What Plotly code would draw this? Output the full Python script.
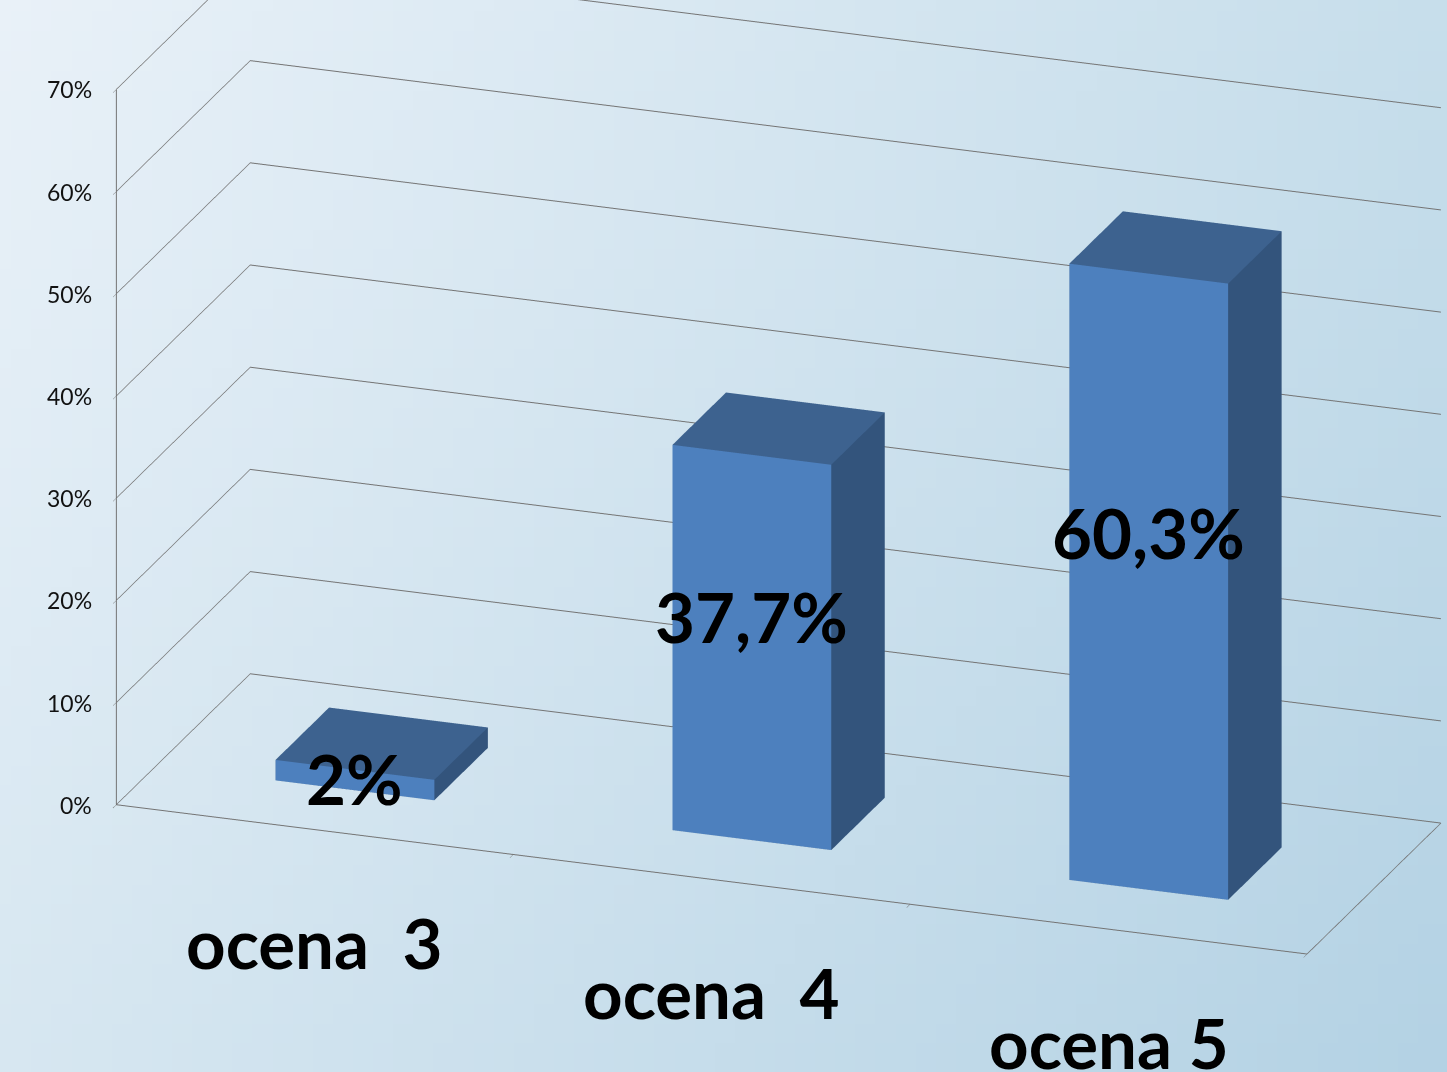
import base64, struct, zlib, math
import plotly.graph_objects as go

# ---------------- data ----------------
categories = ["ocena\u00a0 3", "ocena\u00a0 4", "ocena 5"]
values = [2.0, 37.7, 60.3]
value_labels = ["2%", "37,7%", "60,3%"]
z_ticks = [0, 10, 20, 30, 40, 50, 60, 70]
z_tick_labels = ["0%", "10%", "20%", "30%", "40%", "50%", "60%", "70%"]

# ---------------- style ----------------
FRONT = "#4d80be"
TOP = "#3d628f"
SIDE = "#33547c"
GRID = "#747474"
BAR_W = 0.4
Y0, Y1 = 0.3, 0.7


def gradient_png(w, h, tl, tr, bl, br):
    rows = []
    for j in range(h):
        v = j / (h - 1)
        row = bytearray([0])
        for i in range(w):
            u = i / (w - 1)
            for c in range(3):
                top = tl[c] * (1 - u) + tr[c] * u
                bot = bl[c] * (1 - u) + br[c] * u
                row.append(int(round(top * (1 - v) + bot * v)))
        rows.append(bytes(row))
    raw = b"".join(rows)

    def chunk(t, d):
        return struct.pack(">I", len(d)) + t + d + struct.pack(">I", zlib.crc32(t + d) & 0xFFFFFFFF)

    png = b"\x89PNG\r\n\x1a\n" + chunk(b"IHDR", struct.pack(">IIBBBBB", w, h, 8, 2, 0, 0, 0))
    png += chunk(b"IDAT", zlib.compress(raw, 9)) + chunk(b"IEND", b"")
    return "data:image/png;base64," + base64.b64encode(png).decode()


bg = gradient_png(72, 54, (233, 241, 248), (199, 222, 235), (215, 231, 241), (180, 210, 228))

# ---------------- bars as boxes ----------------
xs, ys, zs, I, J, K, fc = [], [], [], [], [], [], []
for idx, v in enumerate(values):
    cx = idx + 1
    x0, x1 = cx - BAR_W / 2, cx + BAR_W / 2
    base = len(xs)
    for (px, py, pz) in [(x0, Y0, 0), (x1, Y0, 0), (x1, Y1, 0), (x0, Y1, 0),
                         (x0, Y0, v), (x1, Y0, v), (x1, Y1, v), (x0, Y1, v)]:
        xs.append(px); ys.append(py); zs.append(pz)
    faces = [
        ((0, 1, 5), FRONT), ((0, 5, 4), FRONT),   # front
        ((4, 5, 6), TOP), ((4, 6, 7), TOP),       # top
        ((1, 2, 6), SIDE), ((1, 6, 5), SIDE),     # right
        ((0, 3, 7), SIDE), ((0, 7, 4), SIDE),     # left
        ((3, 2, 6), SIDE), ((3, 6, 7), SIDE),     # back
        ((0, 1, 2), SIDE), ((0, 2, 3), SIDE),     # bottom
    ]
    for (a, b, c), col in faces:
        I.append(base + a); J.append(base + b); K.append(base + c); fc.append(col)

fig = go.Figure(go.Mesh3d(
    x=xs, y=ys, z=zs, i=I, j=J, k=K, facecolor=fc,
    flatshading=True, hoverinfo="skip",
    lighting=dict(ambient=1.0, diffuse=0.0, specular=0.0, roughness=1.0, fresnel=0.0),
))

big_font = dict(family="Lato", size=69, color="black", weight="bold")
annotations = []
for idx, (v, lab) in enumerate(zip(values, value_labels)):
    annotations.append(dict(x=idx + 1, y=Y0, z=v * 0.58, text=lab, showarrow=False,
                            font=big_font))
for idx, cat in enumerate(categories):
    annotations.append(dict(x=idx + 1, y=0, z=0, text=cat, showarrow=False, yshift=-113,
                            font=big_font))
for t, tl in zip(z_ticks, z_tick_labels):
    annotations.append(dict(x=0.5, y=0, z=t, text=tl, showarrow=False, xanchor="right",
                            xshift=-22, font=dict(family="Lato", size=23, color="#111111")))

axis_common = dict(showbackground=False, showspikes=False, title=dict(text=""),
                   zeroline=False, linecolor=GRID, linewidth=2, showline=True)

# camera (orthographic view); in orthographic mode the zoom comes from the aspect ratio
S = 1 / 1.93
phi, theta = math.radians(19.7), math.radians(20.5)
direction = (math.cos(theta) * math.sin(phi), -math.cos(theta) * math.cos(phi), math.sin(theta))
center = (-0.207 * S + 0.028, -0.181 * S + 0.010, -0.269 * S)
dist = 2.5
eye = tuple(c + dist * d for c, d in zip(center, direction))

fig.update_layout(
    width=1447, height=1072, margin=dict(l=0, r=0, t=0, b=0),
    paper_bgcolor="#d3e5f0", showlegend=False,
    images=[dict(source=bg, xref="paper", yref="paper", x=0, y=1, sizex=1, sizey=1,
                 sizing="stretch", layer="below")],
    scene=dict(
        domain=dict(x=[0, 1], y=[0, 1]),
        bgcolor="rgba(0,0,0,0)",
        aspectmode="manual", aspectratio=dict(x=4.4 * 1.035 * S, y=1.43 * S, z=2.75 * S),
        xaxis=dict(range=[0.5, 3.5], showgrid=False, showticklabels=False,
                   tickvals=[0.5, 1.5, 2.5, 3.5], ticks="outside", ticklen=20,
                   tickcolor=GRID, **axis_common),
        yaxis=dict(range=[0, 1], showgrid=False, showticklabels=False, ticks="",
                   **axis_common),
        zaxis=dict(range=[0, 70], tickvals=z_ticks, ticktext=z_tick_labels,
                   showgrid=True, gridcolor=GRID, gridwidth=2, ticks="outside",
                   ticklen=12, tickcolor=GRID, showticklabels=False, **axis_common),
        camera=dict(projection=dict(type="orthographic"),
                    eye=dict(x=eye[0], y=eye[1], z=eye[2]),
                    center=dict(x=center[0], y=center[1], z=center[2]),
                    up=dict(x=0, y=0, z=1)),
        annotations=annotations,
    ),
)

fig.write_html("out.html", config={"displayModeBar": False})
